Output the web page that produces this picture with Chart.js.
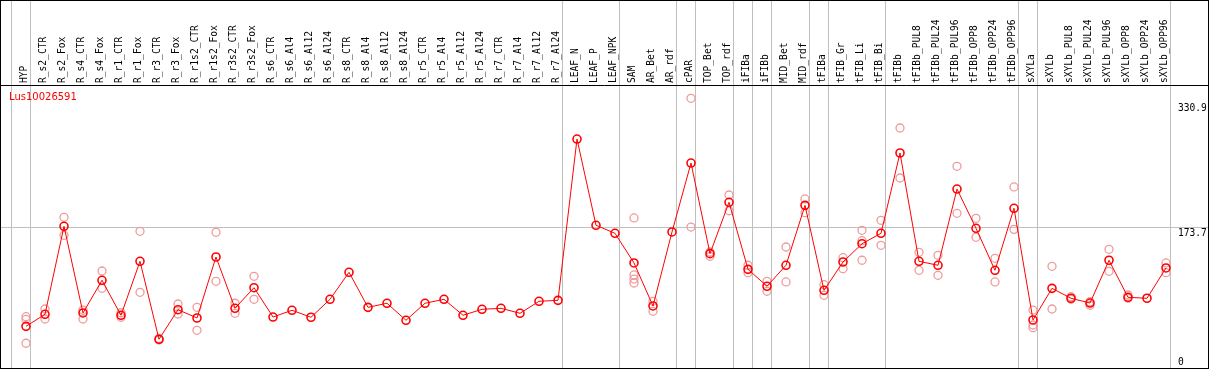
<!DOCTYPE html>
<html>
<head>
<meta charset="utf-8">
<title>Lus10026591</title>
<script src="https://cdn.jsdelivr.net/npm/chart.js@4/dist/chart.umd.min.js"></script>
<style>
    html, body { margin: 0; padding: 0; background: #fff; }
    #wrap { width: 1209px; height: 370px; }
</style>
</head>
<body>
<div id="wrap"><canvas id="geneChart" width="1209" height="370"></canvas></div>
<script>
// Sample names (top axis)
const categories = [
    'HYP', 'R_s2_CTR', 'R_s2_Fox', 'R_s4_CTR', 'R_s4_Fox', 'R_r1_CTR', 'R_r1_Fox',
    'R_r3_CTR', 'R_r3_Fox', 'R_r1s2_CTR', 'R_r1s2_Fox', 'R_r3s2_CTR', 'R_r3s2_Fox',
    'R_s6_CTR', 'R_s6_Al4', 'R_s6_Al12', 'R_s6_Al24', 'R_s8_CTR', 'R_s8_Al4', 'R_s8_Al12',
    'R_s8_Al24', 'R_r5_CTR', 'R_r5_Al4', 'R_r5_Al12', 'R_r5_Al24', 'R_r7_CTR', 'R_r7_Al4',
    'R_r7_Al12', 'R_r7_Al24', 'LEAF_N', 'LEAF_P', 'LEAF_NPK', 'SAM', 'AR_Bet', 'AR_rdf',
    'cPAR', 'TOP_Bet', 'TOP_rdf', 'iFIBa', 'iFIBb', 'MID_Bet', 'MID_rdf', 'tFIBa',
    'tFIB_Gr', 'tFIB_Li', 'tFIB_Bi', 'tFIBb', 'tFIBb_PUL8', 'tFIBb_PUL24', 'tFIBb_PUL96',
    'tFIBb_OPP8', 'tFIBb_OPP24', 'tFIBb_OPP96', 'sXYLa', 'sXYLb', 'sXYLb_PUL8',
    'sXYLb_PUL24', 'sXYLb_PUL96', 'sXYLb_OPP8', 'sXYLb_OPP24', 'sXYLb_OPP96'
];

// Mean expression per sample
const means = [
    49.9, 65.0, 175.7, 66.7, 107.8, 63.8, 131.7, 33.6, 70.8, 60.4, 137.1, 72.6, 98.5,
    61.6, 70.1, 61.3, 83.9, 117.9, 73.8, 78.9, 57.5, 78.9, 83.9, 63.8, 71.3, 72.6, 66.3,
    81.4, 82.6, 285.5, 177.0, 166.9, 129.6, 75.5, 168.6, 255.3, 141.3, 205.9, 121.6,
    100.3, 126.7, 202.1, 95.2, 130.8, 153.8, 166.9, 267.9, 131.7, 126.7, 222.6, 173.2,
    120.4, 198.4, 57.9, 97.7, 85.2, 79.2, 133.0, 86.4, 85.2, 123.3
];

// Individual replicates (empty where they sit under the mean)
const replicates = [
    [62.0, 58.7, 28.6], [71.7, 59.1], [187.0, 164.4], [70.4, 59.1], [119.5, 97.7],
    [67.0, 61.3], [169.4, 92.7], [32.7, 34.6], [78.0, 65.4], [73.8, 44.9],
    [168.2, 106.5], [78.9, 66.3], [112.8, 83.9], [], [], [], [], [], [], [], [], [], [],
    [], [], [], [], [], [], [], [], [], [186.2, 114.5, 109.4, 104.4], [81.4, 68.8], [],
    [336.7, 174.8], [138.0, 143.4], [215.1, 195.3], [126.7, 117.4], [106.5, 94.0],
    [149.7, 105.7], [210.1, 192.8], [102.3, 88.9], [136.2, 122.4], [170.7, 157.6, 133.0],
    [183.3, 151.8], [299.4, 236.5], [143.0, 120.4], [139.2, 114.1], [251.2, 192.1],
    [185.8, 161.9], [135.5, 105.7], [225.2, 171.9], [70.4, 51.6, 48.2], [125.4, 71.7],
    [87.2, 83.9], [80.9, 76.4], [146.8, 119.1], [89.3, 85.2], [], [129.6, 117.4]
];

// Right axis labels
const yTicks = [0, 173.7, 330.9];

// Group separators come after these sample indexes
const separators = [-1, 0, 28, 31, 34, 35, 37, 38, 39, 41, 42, 45, 52, 53, 60];

const geneName = 'Lus10026591';

document.addEventListener('DOMContentLoaded', function () {
    const ctx = document.getElementById('geneChart');

    const meanPoints = means.map((v, i) => ({ x: i, y: v }));
    const repPoints = [];
    replicates.forEach((list, i) => {
        list.forEach(v => repPoints.push({ x: i, y: v }));
    });

    // frame, separators, title and y labels
    const decorPlugin = {
        id: 'decor',
        beforeDatasetsDraw(chart) {
            const c = chart.ctx;
            const xs = chart.scales.x;
            c.save();
            c.strokeStyle = '#c0c0c0';
            c.lineWidth = 1;
            separators.forEach(idx => {
                const px = Math.round(xs.getPixelForValue(idx + 0.21)) + 0.5;
                c.beginPath();
                c.moveTo(px, 0);
                c.lineTo(px, 368);
                c.stroke();
            });
            c.restore();
        },
        afterDraw(chart) {
            const c = chart.ctx;
            const ys = chart.scales.y;
            const area = chart.chartArea;
            c.save();
            c.strokeStyle = '#000';
            c.lineWidth = 1;
            c.strokeRect(0.5, 0.5, 1208, 368);
            c.beginPath();
            c.moveTo(0, 85.5);
            c.lineTo(1209, 85.5);
            c.stroke();

            // gene name
            c.fillStyle = '#ff0000';
            c.font = '10px "DejaVu Sans"';
            c.textBaseline = 'top';
            c.textAlign = 'left';
            c.fillText(geneName, 9, 92);

            // y tick labels
            c.fillStyle = '#000';
            c.font = '9.6px "DejaVu Sans Mono"';
            yTicks.forEach(v => {
                const py = ys.getPixelForValue(v);
                if (py + 10 > area.bottom) {
                    c.textBaseline = 'bottom';
                    c.fillText(String(v), 1178, py + 1);
                } else {
                    c.textBaseline = 'top';
                    c.fillText(String(v), 1178, py + 1);
                }
            });
            c.restore();
        }
    };

    new Chart(ctx, {
        type: 'line',
        data: {
            datasets: [{
                label: 'mean',
                data: meanPoints,
                borderColor: '#ff0000',
                borderWidth: 1,
                pointStyle: 'circle',
                pointRadius: 4,
                pointBorderWidth: 1.6,
                pointBorderColor: '#ff0000',
                pointBackgroundColor: 'rgba(0,0,0,0)',
                tension: 0
            }, {
                label: 'replicates',
                data: repPoints,
                showLine: false,
                pointStyle: 'circle',
                pointRadius: 4,
                pointBorderWidth: 1.3,
                pointBorderColor: '#f09a9a',
                pointBackgroundColor: 'rgba(0,0,0,0)'
            }]
        },
        options: {
            responsive: false,
            animation: false,
            events: [],
            layout: { autoPadding: false, padding: { left: 0, right: 0, top: 0, bottom: 4 } },
            plugins: {
                legend: { display: false },
                tooltip: { enabled: false }
            },
            scales: {
                x: {
                    type: 'linear',
                    position: 'top',
                    min: -26 / 19,
                    max: (1209 - 26) / 19,
                    afterBuildTicks: (scale) => {
                        scale.ticks = categories.map((c, i) => ({ value: i }));
                    },
                    afterFit: (scale) => {
                        scale.height = 86;
                        scale.paddingLeft = 0;
                        scale.paddingRight = 0;
                    },
                    grid: { display: false, drawTicks: false },
                    border: { display: false },
                    ticks: {
                        autoSkip: false,
                        minRotation: 90,
                        maxRotation: 90,
                        padding: 3,
                        labelOffset: 10,
                        color: '#000',
                        font: { family: 'DejaVu Sans Mono', size: 9.6 },
                        callback: (v) => categories[v]
                    }
                },
                y: {
                    type: 'linear',
                    position: 'right',
                    min: 0,
                    max: 352.2,
                    afterBuildTicks: (scale) => {
                        scale.ticks = yTicks.map(v => ({ value: v }));
                    },
                    afterFit: (scale) => { scale.width = 0; },
                    border: { display: false },
                    grid: {
                        drawTicks: false,
                        color: (c) => (c.tick && c.tick.value === 173.7) ? '#c0c0c0' : 'rgba(0,0,0,0)'
                    },
                    ticks: { display: false }
                }
            }
        },
        plugins: [decorPlugin]
    });
});
</script>
</body>
</html>
